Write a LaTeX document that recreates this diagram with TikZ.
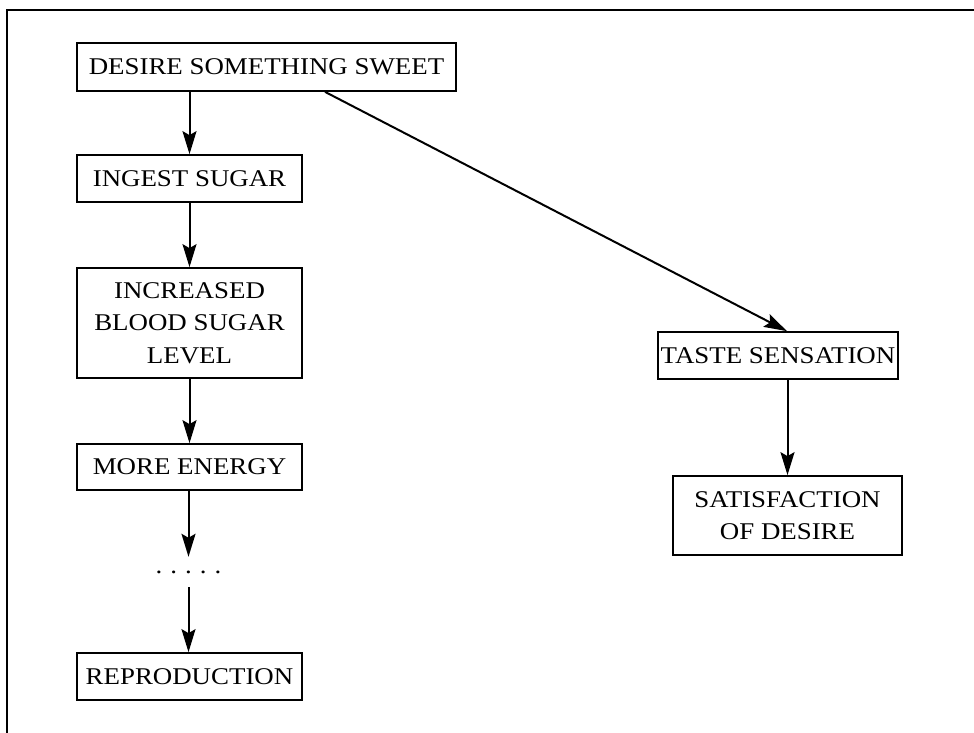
\documentclass[tikz,border=0pt]{standalone}
\usepackage{fontspec}
\setmainfont[FakeStretch=1.12]{Liberation Serif}
\usetikzlibrary{arrows.meta}
\begin{document}
\begin{tikzpicture}[x=1pt,y=-1pt,
  box/.style={draw=black, line width=1.7pt, inner sep=0pt, align=center,
    font=\fontsize{24}{32.5}\selectfont},
  conn/.style={line width=2pt, -{Stealth[length=23pt,width=14pt,inset=4pt]}}]
\useasboundingbox (0,0) rectangle (974,733);
\draw[line width=1.7pt] (7,740) -- (7,10) -- (980,10);
\node[box, minimum width=379pt, minimum height=48pt] (d1) at (266.5,67) {DESIRE SOMETHING SWEET};
\node[box, minimum width=225pt, minimum height=47pt] (d2) at (189.5,178.5) {INGEST SUGAR};
\node[box, minimum width=225pt, minimum height=110pt] (d3) at (189.5,323) {INCREASED\\BLOOD SUGAR\\LEVEL};
\node[box, minimum width=225pt, minimum height=46pt] (d4) at (189.5,467) {MORE ENERGY};
\node[font=\fontsize{24}{32}\selectfont, inner sep=0pt, minimum height=30pt] (dots) at (188.5,572) {.\hspace{8pt}.\hspace{8pt}.\hspace{8pt}.\hspace{8pt}.};
\node[box, minimum width=225pt, minimum height=47pt] (d5) at (189.5,676.5) {REPRODUCTION};
\node[box, minimum width=240pt, minimum height=47pt] (t1) at (778,355.5) {TASTE SENSATION};
\node[box, minimum width=229pt, minimum height=79pt] (t2) at (787.5,515.5) {SATISFACTION\\OF DESIRE};
\draw[conn] (d2.north |- d1.south) -- (d2.north);
\draw[conn] (d2.south) -- (d3.north);
\draw[conn] (d3.south) -- (d4.north);
\draw[conn] (d4.south -| dots.north) -- (dots.north);
\draw[conn] (dots.south) -- (dots.south |- d5.north);
\draw[conn] ([xshift=58.5pt]d1.south) -- ([xshift=9pt]t1.north);
\draw[conn] (t2.north |- t1.south) -- (t2.north);
\end{tikzpicture}
\end{document}
